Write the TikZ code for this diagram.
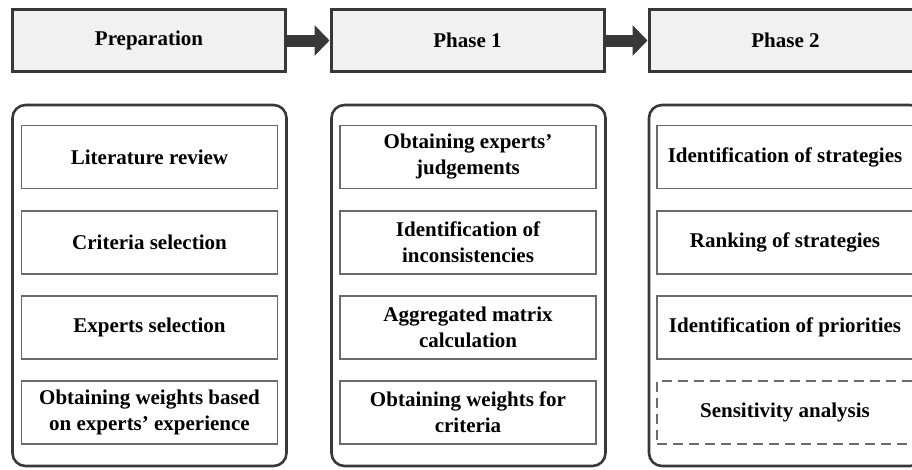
\documentclass[tikz,border=0pt]{standalone}
\usepackage{fontspec}
\setmainfont{Liberation Serif}
\usetikzlibrary{arrows.meta}
\definecolor{dk}{HTML}{383838}
\definecolor{hdfill}{HTML}{F1F1F1}
\definecolor{inb}{HTML}{6A6A6A}
\tikzset{
  hdr/.style={draw=dk, line width=3pt, fill=hdfill, minimum width=273pt, minimum height=62pt, inner sep=0pt,
    font=\fontsize{21}{26}\selectfont\bfseries},
  cont/.style={draw=dk, line width=2.6pt, rounded corners=13pt, minimum width=274pt, minimum height=361pt, inner sep=0pt},
  item/.style={draw=inb, line width=1.3pt, minimum width=256pt, minimum height=63pt, inner sep=0pt,
    align=center, font=\fontsize{21}{26}\selectfont\bfseries},
  dashitem/.style={item, dash pattern=on 10pt off 6pt},
  bigarrow/.style={draw=dk, line width=12pt, -{Triangle[length=15pt,width=30pt]}, shorten <=-1pt}
}
\begin{document}
\begin{tikzpicture}[x=1pt,y=-1pt]
\useasboundingbox (0,0) rectangle (912,469);
% headers
\node[hdr] (prep) at (149,40.5) {Preparation};
\node[hdr] (ph1) at (467.5,40.5) {Phase 1};
\node[hdr] (ph2) at (785.5,40.5) {Phase 2};
\draw[bigarrow] (prep.east) -- (ph1.west);
\draw[bigarrow] (ph1.east) -- (ph2.west);
% containers
\node[cont] (cA) at (149.5,285.5) {};
\node[cont] (cB) at (468.5,285.5) {};
\node[cont] (cC) at (786,285.5) {};
% preparation items
\node[item] (a1) at (149.5,157) {Literature review};
\node[item] (a2) at (149.5,242.5) {Criteria selection};
\node[item] (a3) at (149.5,327.5) {Experts selection};
\node[item] (a4) at (149.5,412.5) {Obtaining weights based\\on experts’ experience};
% phase 1 items
\node[item] (b1) at (468,157) {Obtaining experts’\\judgements};
\node[item] (b2) at (468,242.5) {Identification of\\inconsistencies};
\node[item] (b3) at (468,327.5) {Aggregated matrix\\calculation};
\node[item] (b4) at (468,412.5) {Obtaining weights for\\criteria};
% phase 2 items
\node[item] (c1) at (785,157) {Identification of strategies};
\node[item] (c2) at (785,242.5) {Ranking of strategies};
\node[item] (c3) at (785,327.5) {Identification of priorities};
\node[dashitem] (c4) at (785,412.5) {Sensitivity analysis};
\end{tikzpicture}
\end{document}
